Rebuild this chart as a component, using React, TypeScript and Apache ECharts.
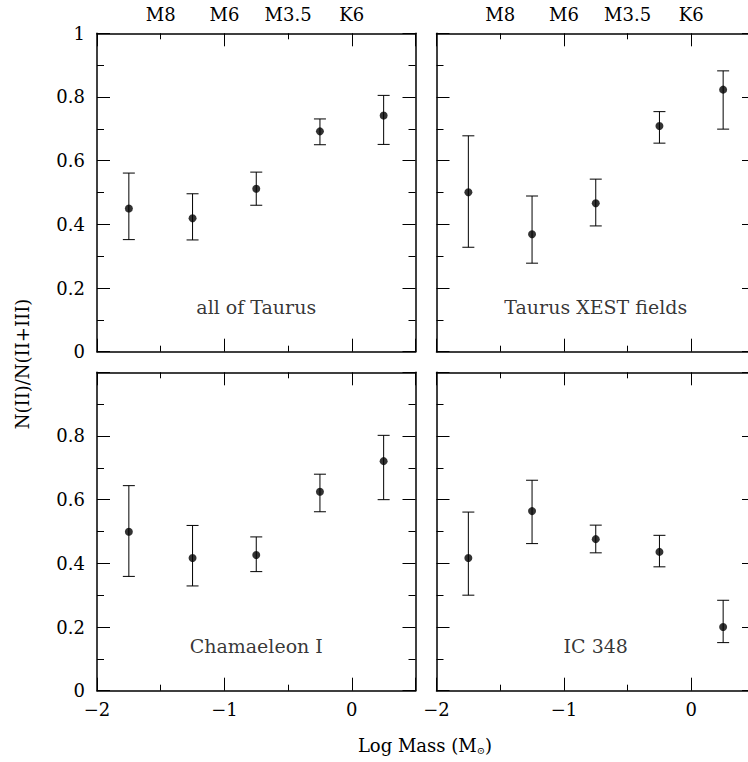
import React, { useEffect, useRef } from 'react';
import * as echarts from 'echarts';

// ---- data ----
const logMass = [-1.75, -1.25, -0.75, -0.25, 0.25];
const spectralTypeTicks = [-1.5, -1, -0.5, 0];
const spectralTypeLabels = ['M8', 'M6', 'M3.5', 'K6'];

const taurusAll = [0.45, 0.419, 0.512, 0.692, 0.742];
const taurusAllLo = [0.352, 0.351, 0.46, 0.65, 0.651];
const taurusAllHi = [0.561, 0.496, 0.564, 0.731, 0.805];

const taurusXest = [0.501, 0.369, 0.466, 0.709, 0.823];
const taurusXestLo = [0.328, 0.278, 0.395, 0.655, 0.699];
const taurusXestHi = [0.678, 0.489, 0.542, 0.754, 0.882];

const chamI = [0.499, 0.417, 0.426, 0.625, 0.721];
const chamILo = [0.359, 0.329, 0.374, 0.562, 0.6];
const chamIHi = [0.644, 0.519, 0.483, 0.68, 0.802];

const ic348 = [0.417, 0.564, 0.476, 0.436, 0.2];
const ic348Lo = [0.3, 0.462, 0.433, 0.389, 0.151];
const ic348Hi = [0.561, 0.661, 0.52, 0.488, 0.284];

const panelNames = ['all of Taurus', 'Taurus XEST fields', 'Chamaeleon I', 'IC 348'];
const panelValues = [taurusAll, taurusXest, chamI, ic348];
const panelLo = [taurusAllLo, taurusXestLo, chamILo, ic348Lo];
const panelHi = [taurusAllHi, taurusXestHi, chamIHi, ic348Hi];
const panelLabelAt = [-0.75, 0.14];

const xTicksLabels = (v: number) => {
  if (!Number.isInteger(v)) return '';
  return v < 0 ? '\u2212' + Math.abs(v) : String(v);
};

const FONT = '"DejaVu Serif", "Liberation Serif", serif';
const TICK_FONT = 18;

export default function App() {
  const ref = useRef<HTMLDivElement>(null);
  useEffect(() => {
    if (!ref.current) return;
    const chart = echarts.init(ref.current, null, { renderer: 'svg' });

    const grids = [
      { left: 97, top: 33.3, width: 318.5, height: 318.4, outerBoundsMode: 'none', containLabel: false },
      { left: 436.5, top: 33.3, width: 318.5, height: 318.4, outerBoundsMode: 'none', containLabel: false },
      { left: 97, top: 372.3, width: 318.5, height: 318.4, outerBoundsMode: 'none', containLabel: false },
      { left: 436.5, top: 372.3, width: 318.5, height: 318.4, outerBoundsMode: 'none', containLabel: false },
    ];

    const line = { show: true, onZero: false, lineStyle: { color: '#000', width: 1.5 } };
    const major = { show: true, inside: true, length: 13, lineStyle: { color: '#000', width: 1 } };
    const xMinor = { show: true, splitNumber: 2, length: 6, lineStyle: { color: '#000', width: 1 } };
    const yMinor = { show: true, splitNumber: 2, length: 7, lineStyle: { color: '#000', width: 1 } };
    const xAxes: any[] = [];
    const yAxes: any[] = [];
    const series: any[] = [];

    grids.forEach((g, i) => {
      const isTop = i < 2;
      const isLeft = i % 2 === 0;
      xAxes.push({
        type: 'value', gridIndex: i, position: 'bottom', min: -2, max: 0.5, interval: 1,
        axisLine: line, axisTick: major, minorTick: xMinor,
        splitLine: { show: false },
        axisLabel: {
          show: !isTop, margin: 10, fontSize: TICK_FONT, color: '#000', fontFamily: FONT,
          formatter: xTicksLabels,
        },
      });
      xAxes.push({
        type: 'value', gridIndex: i, position: 'top', min: -2, max: 0.5, interval: 1,
        axisLine: line, axisTick: major, minorTick: xMinor,
        splitLine: { show: false },
        axisLabel: {
          show: isTop, margin: 10, fontSize: TICK_FONT, color: '#000', fontFamily: FONT,
          customValues: spectralTypeTicks,
          formatter: (v: number) => {
            const k = spectralTypeTicks.indexOf(v);
            return k >= 0 ? spectralTypeLabels[k] : '';
          },
        },
      });
      yAxes.push({
        type: 'value', gridIndex: i, position: 'left', min: 0, max: 1, interval: 0.2,
        axisLine: line, axisTick: major, minorTick: yMinor,
        splitLine: { show: false },
        axisLabel: {
          show: isLeft, margin: 12, fontSize: TICK_FONT, color: '#000', fontFamily: FONT,
          formatter: (v: number) => (!isTop && v === 1 ? '' : String(Math.round(v * 10) / 10)),
        },
      });
      yAxes.push({
        type: 'value', gridIndex: i, position: 'right', min: 0, max: 1, interval: 0.2,
        axisLine: line, axisTick: major, minorTick: yMinor,
        splitLine: { show: false },
        axisLabel: { show: false },
      });

      const xi = i * 2;
      const yi = i * 2;
      const vals = panelValues[i];
      const lo = panelLo[i];
      const hi = panelHi[i];

      series.push({
        type: 'custom', xAxisIndex: xi, yAxisIndex: yi, clip: false,
        data: logMass.map((x, k) => [x, vals[k], lo[k], hi[k]]),
        encode: { x: 0, y: [2, 3] },
        renderItem: (params: any, api: any) => {
          const x = api.value(0);
          const pLo = api.coord([x, api.value(2)]);
          const pHi = api.coord([x, api.value(3)]);
          const hw = 6;
          const st = { stroke: '#000', lineWidth: 1 };
          return {
            type: 'group',
            children: [
              { type: 'line', shape: { x1: pLo[0], y1: pLo[1], x2: pHi[0], y2: pHi[1] }, style: st },
              { type: 'line', shape: { x1: pLo[0] - hw, y1: pLo[1], x2: pLo[0] + hw, y2: pLo[1] }, style: st },
              { type: 'line', shape: { x1: pHi[0] - hw, y1: pHi[1], x2: pHi[0] + hw, y2: pHi[1] }, style: st },
            ],
          };
        },
      });
      series.push({
        type: 'scatter', xAxisIndex: xi, yAxisIndex: yi,
        symbol: 'circle', symbolSize: 8,
        itemStyle: { color: '#000' },
        data: logMass.map((x, k) => [x, vals[k]]),
      });
      series.push({
        type: 'scatter', xAxisIndex: xi, yAxisIndex: yi,
        symbolSize: 1, itemStyle: { color: 'rgba(0,0,0,0)' },
        silent: true,
        label: {
          show: true, position: 'inside', formatter: panelNames[i],
          fontSize: 19, color: '#000', fontFamily: FONT,
        },
        data: [panelLabelAt],
      });
    });

    chart.setOption({
      animation: false,
      backgroundColor: '#fff',
      textStyle: { fontFamily: FONT, color: '#000' },
      grid: grids,
      xAxis: xAxes,
      yAxis: yAxes,
      series,
      graphic: [
        {
          type: 'text', x: 22, y: 364, rotation: Math.PI / 2,
          style: {
            text: 'N(II)/N(II+III)', fontSize: 18, fontFamily: FONT, fill: '#000',
            align: 'center', verticalAlign: 'middle',
          },
        },
        {
          type: 'text', x: 425, y: 745,
          style: {
            text: 'Log Mass (M{s|\u2299})', fontSize: 18, fontFamily: FONT, fill: '#000',
            align: 'center', verticalAlign: 'middle',
            rich: { s: { fontSize: 10, fontFamily: FONT, padding: [11, 0, 0, 0] } },
          },
        },
      ],
    });
    return () => chart.dispose();
  }, []);
  return (
    <div
      ref={ref}
      style={{ position: 'fixed', left: 0, top: 0, width: 748, height: 762, background: '#fff' }}
    />
  );
}
